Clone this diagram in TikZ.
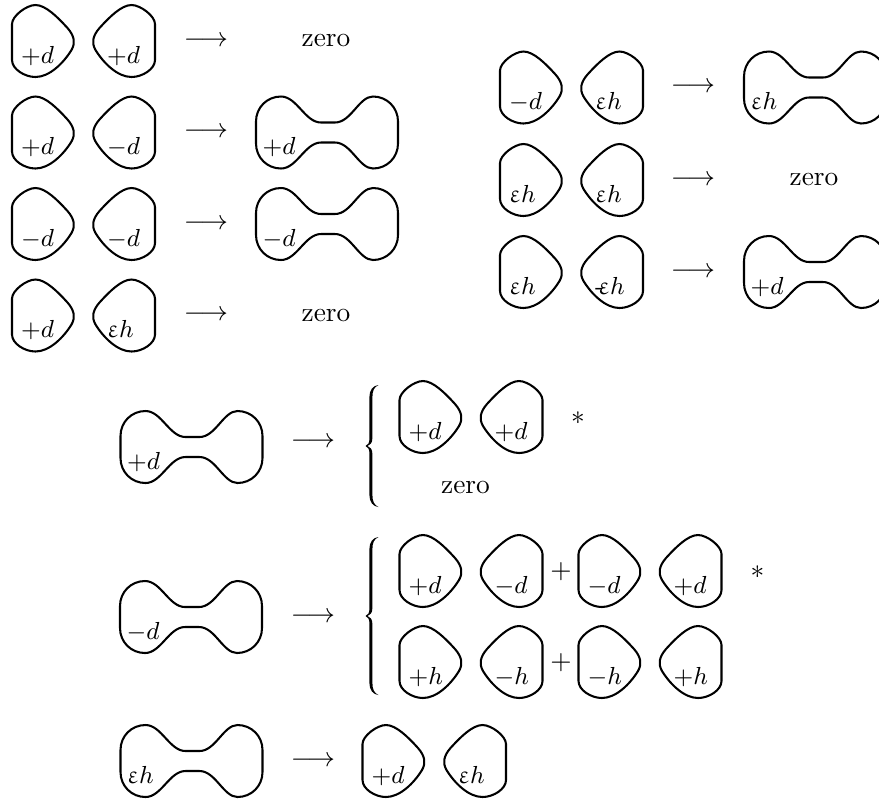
\documentclass[tikz,border=0pt]{standalone}
\usepackage{amsmath}
\usepackage{upgreek}

% outline of a single loop, its flat side on the left
\newcommand{\blobpath}{(-31.5,-17) .. controls (-31.5,-25) and (-17,-36) .. (-8,-36)
  .. controls (2,-36) and (14,-24) .. (24,-13)
  .. controls (31,-5) and (32,2) .. (28,9)
  .. controls (20,22) and (6,36) .. (-8,36)
  .. controls (-19,36) and (-31.5,28) .. (-31.5,19) -- cycle}

\tikzset{
  loopline/.style={line width=0.75pt},
  lbl/.style={font=\small, anchor=base west, inner sep=0pt},
  lblob/.pic={
    \draw[loopline] \blobpath;
    \node[lbl] (-lab) at (-23,22) {#1};
  },
  rblob/.pic={
    \draw[loopline, xscale=-1] \blobpath;
    \node[lbl] (-lab) at (-17,22) {#1};
  },
  dblob/.pic={
    \draw[loopline] (-71,11) -- (-71,-11)
      .. controls (-71,-25) and (-60,-36) .. (-46,-36)
      .. controls (-30,-36) and (-22,-10) .. (-6,-10) -- (8,-10)
      .. controls (24,-10) and (32,-36) .. (46,-36)
      .. controls (60,-36) and (71,-25) .. (71,-11) -- (71,11)
      .. controls (71,25) and (60,36) .. (46,36)
      .. controls (32,36) and (24,10) .. (8,10) -- (-6,10)
      .. controls (-22,10) and (-30,36) .. (-46,36)
      .. controls (-60,36) and (-71,25) .. (-71,11) -- cycle;
    \node[lbl] (-lab) at (-65,22) {#1};
  },
  % left curly brace, #1 = half its height
  bbrace/.pic={
    \fill (7.5,-#1) .. controls (2,-#1+0.5) and (-1.6,-#1+5) .. (-1.6,-#1+12)
      -- (-1.6,-7) .. controls (-1.6,-3) and (-3,-1) .. (-5.5,0)
      .. controls (-3,1) and (-1.6,3) .. (-1.6,7)
      -- (-1.6,#1-12) .. controls (-1.6,#1-5) and (2,#1-0.5) .. (7.5,#1)
      .. controls (3,#1-2) and (1.4,#1-6) .. (1.4,#1-12)
      -- (1.4,8) .. controls (1.4,3) and (-1,0.8) .. (-3.5,0)
      .. controls (-1,-0.8) and (1.4,-3) .. (1.4,-8)
      -- (1.4,-#1+12) .. controls (1.4,-#1+6) and (3,-#1+2) .. (7.5,-#1) -- cycle;
  }
}
\newcommand{\eh}{\upvarepsilon h}

\begin{document}
\begin{tikzpicture}[x=0.365pt, y=-0.365pt]
  \path[use as bounding box, clip] (0,0) rectangle (879,798);

  % Left column
  \pic (la1) at (43.5,41) {lblob={$+d$}};
  \pic (lb1) at (123.5,41) {rblob={$+d$}};
  \node (larr1) at (206,41) {$\longrightarrow$};
  \node (lout1) at (326,41) {zero};

  \pic (la2) at (43.5,132.5) {lblob={$+d$}};
  \pic (lb2) at (123.5,132.5) {rblob={$-d$}};
  \node (larr2) at (206,132.5) {$\longrightarrow$};
  \pic (lout2) at (327,132.5) {dblob={$+d$}};

  \pic (la3) at (43.5,224) {lblob={$-d$}};
  \pic (lb3) at (123.5,224) {rblob={$-d$}};
  \node (larr3) at (206,224) {$\longrightarrow$};
  \pic (lout3) at (327,224) {dblob={$-d$}};

  \pic (la4) at (43.5,315.5) {lblob={$+d$}};
  \pic (lb4) at (123.5,315.5) {rblob={$\eh$}};
  \node (larr4) at (206,315.5) {$\longrightarrow$};
  \node (lout4) at (326,315.5) {zero};

  % Right column
  \pic (ra1) at (531.5,87.5) {lblob={$-d$}};
  \pic (rb1) at (611.5,87.5) {rblob={$\eh$}};
  \node (rarr1) at (693,87.5) {$\longrightarrow$};
  \pic (rout1) at (815,87.5) {dblob={$\eh$}};

  \pic (ra2) at (531.5,180) {lblob={$\eh$}};
  \pic (rb2) at (611.5,180) {rblob={$\eh$}};
  \node (rarr2) at (693,180) {$\longrightarrow$};
  \node (rout2) at (814,180) {zero};

  \pic (ra3) at (531.5,272) {lblob={$\eh$}};
  \pic (rb3) at (611.5,272) {rblob={\mbox{-}\kern-2pt$\eh$}};
  \node (rarr3) at (693,272) {$\longrightarrow$};
  \pic (rout3) at (815,272) {dblob={$+d$}};

  % Splitting of +d
  \pic (sp) at (191.5,447) {dblob={$+d$}};
  \node (sparr) at (313,442) {$\longrightarrow$};
  \pic (spbr) at (371,446) {bbrace=61};
  \pic (spa) at (431,417) {lblob={$+d$}};
  \pic (spb) at (511,417) {rblob={$+d$}};
  \node (spst) at (578,418) {$*$};
  \node (spz) at (465.5,487) {zero};

  % Splitting of -d
  \pic (sm) at (191,617) {dblob={$-d$}};
  \node (smarr) at (313,617) {$\longrightarrow$};
  \pic (smbr) at (371,616) {bbrace=79};
  \pic (sma1) at (431,571) {lblob={$+d$}};
  \pic (smb1) at (511,571) {rblob={$-d$}};
  \node (smp1) at (561,572) {$+$};
  \pic (smc1) at (610,571) {lblob={$-d$}};
  \pic (smd1) at (690,571) {rblob={$+d$}};
  \node (smst) at (757.5,572) {$*$};
  \pic (sma2) at (431,662) {lblob={$+h$}};
  \pic (smb2) at (511,662) {rblob={$-h$}};
  \node (smp2) at (561,663) {$+$};
  \pic (smc2) at (610,662) {lblob={$-h$}};
  \pic (smd2) at (690,662) {rblob={$+h$}};

  % Splitting of eh
  \pic (se) at (191.5,761) {dblob={$\eh$}};
  \node (searr) at (313,761) {$\longrightarrow$};
  \pic (sea) at (394,761) {lblob={$+d$}};
  \pic (seb) at (474.5,761) {rblob={$\eh$}};
\end{tikzpicture}
\end{document}
